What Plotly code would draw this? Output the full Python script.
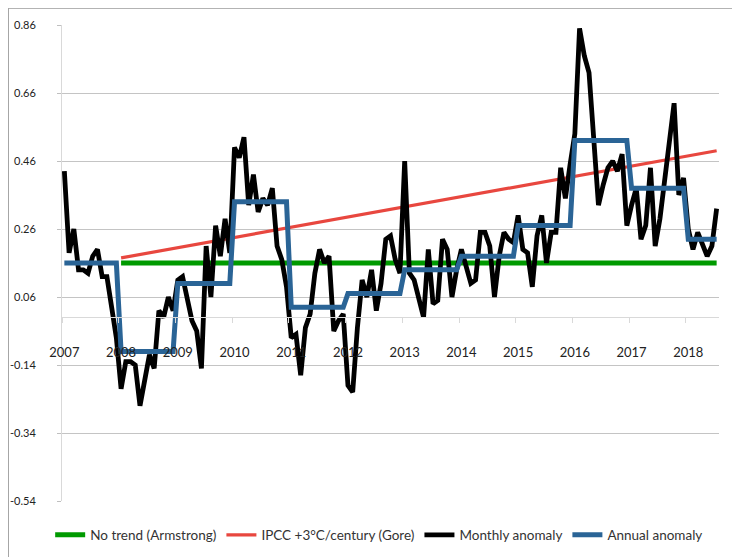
import plotly.graph_objects as go

# ---------------- data ----------------
years = ["2007", "2008", "2009", "2010", "2011", "2012",
         "2013", "2014", "2015", "2016", "2017", "2018"]

monthly_anomaly = [
    0.43, 0.19, 0.26, 0.14, 0.14, 0.13, 0.18, 0.20, 0.12, 0.12, 0.03, -0.06,      # 2007
    -0.21, -0.13, -0.13, -0.14, -0.26, -0.18, -0.11, -0.15, 0.02, 0.00, 0.06, 0.02,  # 2008
    0.11, 0.12, 0.05, -0.01, -0.04, -0.15, 0.21, 0.06, 0.27, 0.18, 0.29, 0.19,    # 2009
    0.50, 0.47, 0.53, 0.33, 0.42, 0.31, 0.35, 0.33, 0.38, 0.21, 0.17, 0.09,       # 2010
    -0.06, -0.05, -0.17, -0.03, 0.01, 0.13, 0.20, 0.16, 0.18, -0.04, -0.01, 0.01, # 2011
    -0.20, -0.22, -0.03, 0.11, 0.06, 0.14, 0.02, 0.10, 0.23, 0.24, 0.17, 0.13,    # 2012
    0.46, 0.13, 0.11, 0.06, 0.00, 0.20, 0.04, 0.05, 0.23, 0.20, 0.06, 0.14,       # 2013
    0.20, 0.15, 0.10, 0.11, 0.25, 0.25, 0.21, 0.06, 0.18, 0.25, 0.23, 0.22,       # 2014
    0.30, 0.20, 0.19, 0.09, 0.24, 0.30, 0.16, 0.25, 0.25, 0.44, 0.35, 0.45,       # 2015
    0.54, 0.85, 0.77, 0.72, 0.53, 0.33, 0.39, 0.44, 0.46, 0.43, 0.48, 0.27,       # 2016
    0.33, 0.38, 0.23, 0.27, 0.44, 0.21, 0.29, 0.41, 0.54, 0.63, 0.36, 0.41,       # 2017
    0.26, 0.20, 0.25, 0.21, 0.18, 0.21, 0.32,                                     # 2018
]

annual_anomaly = [0.16, -0.10, 0.10, 0.34, 0.03, 0.07,
                  0.14, 0.18, 0.27, 0.52, 0.38, 0.23]

no_trend_level = [0.16, 0.16]          # start (Jan 2008) / end
ipcc_trend = [0.175, 0.49]             # start (Jan 2008) / end

y_ticks = [-0.54, -0.34, -0.14, 0.06, 0.26, 0.46, 0.66, 0.86]

# ---------------- derived series ----------------
n = len(monthly_anomaly)
month_idx = list(range(n))
annual_monthly = [annual_anomaly[i // 12] for i in month_idx]
trend_x = [12, n - 1]

GREEN = "#009a00"
RED = "#e8473f"
BLACK = "#000000"
BLUE = "#2a6496"
FONT = "Lato"

fig = go.Figure()
fig.add_trace(go.Scatter(x=trend_x, y=no_trend_level, mode="lines",
                         line=dict(color=GREEN, width=5),
                         name="No trend (Armstrong)"))
fig.add_trace(go.Scatter(x=trend_x, y=ipcc_trend, mode="lines",
                         line=dict(color=RED, width=3.2),
                         name="IPCC +3°C/century (Gore)"))
fig.add_trace(go.Scatter(x=month_idx, y=monthly_anomaly, mode="lines",
                         line=dict(color=BLACK, width=4.8),
                         name="Monthly anomaly"))
fig.add_trace(go.Scatter(x=month_idx, y=annual_monthly, mode="lines",
                         line=dict(color=BLUE, width=5),
                         name="Annual anomaly"))

y_min, y_max = -0.54, 0.86
zero_pos = (0 - y_min) / (y_max - y_min)

# page has an 8px body margin, so the figure is 732x549
W, H = 732, 549
ML, MR, MT, MB = 54, 21, 17, 56
PW, PH = W - ML - MR, H - MT - MB

fig.update_layout(
    width=W, height=H,
    margin=dict(l=ML, r=MR, t=MT, b=MB, autoexpand=False),
    paper_bgcolor="white", plot_bgcolor="white",
    font=dict(family=FONT, size=13, color="#333333"),
    showlegend=True,
    legend=dict(orientation="h", x=-0.018, xanchor="left",
                y=-34 / PH, yanchor="middle",
                font=dict(family=FONT, size=13.5, color="#333333"),
                itemwidth=30, tracegroupgap=0),
    xaxis=dict(
        range=[-0.5, n - 0.5],
        anchor="free", position=zero_pos,
        automargin=False,
        tickmode="array",
        tickvals=[12 * k for k in range(len(years))],
        ticktext=years,
        ticks="", showgrid=False, zeroline=False,
        showline=True, linecolor="#d9d9d9", linewidth=1,
        ticklabelstandoff=23,
        tickfont=dict(family=FONT, size=13, color="#222222"),
        minor=dict(tickmode="array",
                   tickvals=[12 * k - 0.5 for k in range(len(years) + 1)],
                   ticks="outside", ticklen=5, tickcolor="#d9d9d9",
                   showgrid=False),
    ),
    yaxis=dict(
        range=[y_min, y_max],
        automargin=False,
        tickmode="array", tickvals=y_ticks,
        ticktext=[f"{v:.2f}" for v in y_ticks],
        showgrid=True, gridcolor="#c4c4c4", gridwidth=1,
        zeroline=False,
        showline=True, linecolor="#d9d9d9", linewidth=1,
        ticks="outside", ticklen=4, tickcolor="#bfbfbf",
        ticklabelstandoff=19,
        tickfont=dict(family=FONT, size=11, color="#222222"),
    ),
)

# chart-area border (top and left edges visible in the crop)
px2x = lambda px: (px - ML) / PW
py2y = lambda py: (H - MB - py) / PH
fig.add_shape(type="line", xref="paper", yref="paper",
              x0=px2x(0), x1=px2x(W), y0=py2y(0.5), y1=py2y(0.5),
              line=dict(color="#b3b3b3", width=1))
fig.add_shape(type="line", xref="paper", yref="paper",
              x0=px2x(0.5), x1=px2x(0.5), y0=py2y(0), y1=py2y(H),
              line=dict(color="#a6a6a6", width=1))

fig.write_html("out.html")
